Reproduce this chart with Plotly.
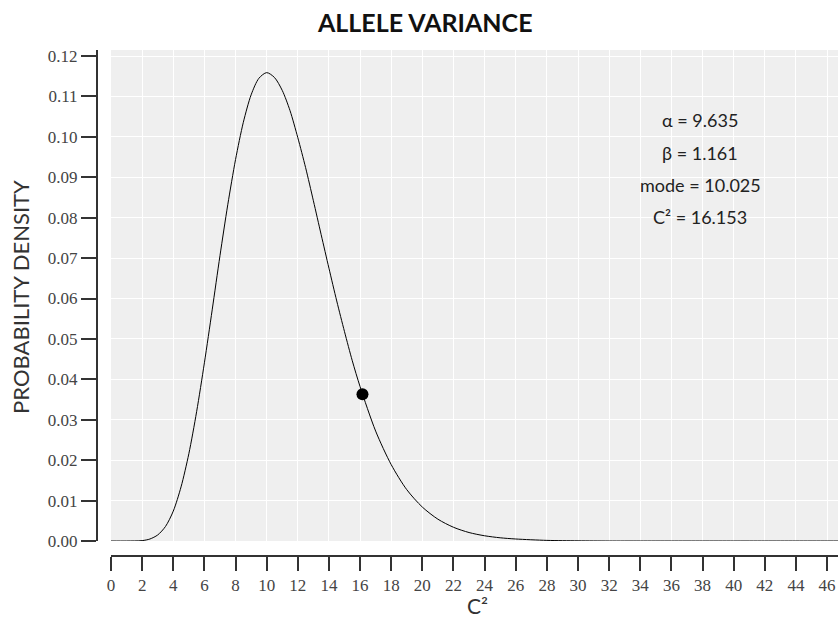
import plotly.graph_objects as go

# Curve (C^2 vs probability density)
c2_values = [0, 1, 2, 2.5, 3, 3.5, 4, 4.5, 5, 5.5, 6, 6.5, 7, 7.5, 8, 8.5, 9, 9.5, 10,
             10.5, 11, 11.5, 12, 12.5, 13, 13.5, 14, 14.5, 15, 15.5,
             16, 17, 18, 19, 20, 21, 22, 23, 24, 25, 26, 28, 30, 32, 34, 36, 38, 40,
             42, 44, 46, 47]
density = [0.0, 0.0, 0.0001, 0.0005, 0.0015, 0.0036, 0.0074, 0.0134, 0.0216, 0.0320,
           0.0441, 0.0572, 0.0706, 0.0832, 0.0944, 0.1036, 0.1104, 0.1145, 0.1159,
           0.1147, 0.1115, 0.1065, 0.0998, 0.0924, 0.0842, 0.0758, 0.0675, 0.0594,
           0.0518, 0.0446, 0.0382, 0.0272, 0.0189, 0.0127, 0.0084, 0.0054, 0.0034, 0.0021,
           0.0013, 0.0008, 0.0005, 0.00016, 0.00005, 0.0, 0.0, 0.0, 0.0, 0.0, 0.0,
           0.0, 0.0, 0.0]

# Highlighted point
point_x = [16.153]
point_y = [0.0363]

# Stats text
stats_lines = ["α = 9.635", "β = 1.161", "mode = 10.025", "C² = 16.153"]
stats_y = [0.1042, 0.0960, 0.0881, 0.0802]
stats_x = 37.84

x_ticks = list(range(0, 47, 2))
y_ticks = [i / 100 for i in range(0, 13)]

fig = go.Figure()
fig.add_trace(go.Scatter(x=c2_values, y=density, mode="lines",
                         line=dict(color="black", width=1, shape="spline", smoothing=0.8),
                         hoverinfo="skip", showlegend=False))
fig.add_trace(go.Scatter(x=point_x, y=point_y, mode="markers",
                         marker=dict(color="black", size=12),
                         showlegend=False))

tickfont = dict(family="Liberation Serif", size=17, color="#444")
fig.update_layout(
    width=838, height=621,
    margin=dict(l=97, r=0, t=50, b=65),
    paper_bgcolor="white",
    plot_bgcolor="#efefef",
    xaxis=dict(domain=[0.0189, 1], range=[0, 46.7], tickvals=x_ticks,
               ticks="outside", ticklen=14, tickwidth=2, tickcolor="#333",
               showline=True, linecolor="#333", linewidth=2,
               anchor="free", position=0,
               showgrid=True, gridcolor="white", gridwidth=1, zeroline=False,
               tickfont=tickfont),
    yaxis=dict(domain=[0.0296, 1], range=[0, 0.1215], tickvals=y_ticks,
               tickformat=".2f",
               ticks="outside", ticklen=15, tickwidth=2, tickcolor="#333",
               showline=True, linecolor="#333", linewidth=2,
               anchor="free", position=0,
               showgrid=True, gridcolor="white", gridwidth=1, zeroline=False,
               tickfont=tickfont),
)

annotations = [
    dict(text="<b>ALLELE VARIANCE</b>", xref="paper", yref="paper", x=0.4426, y=1.056,
         xanchor="center", yanchor="middle", showarrow=False,
         font=dict(family="Lato", size=25, color="#111")),
    dict(text="PROBABILITY DENSITY", xref="paper", yref="paper", x=-0.1026, y=0.512,
         xanchor="center", yanchor="middle", textangle=-90, showarrow=False,
         font=dict(family="Lato", size=22, color="#333")),
    dict(text="C²", xref="paper", yref="paper", x=0.514, y=-0.097,
         xanchor="center", yanchor="middle", showarrow=False,
         font=dict(family="Lato", size=21, color="#333")),
]
for txt, yy in zip(stats_lines, stats_y):
    annotations.append(dict(text=txt, xref="x", yref="y", x=stats_x, y=yy,
                            xanchor="center", yanchor="middle", showarrow=False,
                            font=dict(family="Lato", size=18, color="#222")))
fig.update_layout(annotations=annotations)

fig.write_html("out.html")
